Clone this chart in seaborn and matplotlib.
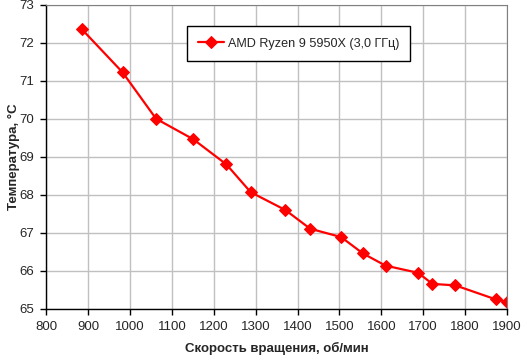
import pandas as pd
import numpy as np
import matplotlib
matplotlib.use('Agg')
import matplotlib.pyplot as plt
import seaborn as sns

# data
speed = [885, 982, 1062, 1151, 1230, 1288, 1371, 1430, 1504, 1556, 1610, 1688, 1722, 1777, 1874, 1899]
temp = [72.35, 71.22, 70.0, 69.46, 68.8, 68.07, 67.6, 67.11, 66.89, 66.46, 66.14, 65.95, 65.66, 65.62, 65.25, 65.19]
series_name = 'AMD Ryzen 9 5950X (3,0 ГГц)'

df = pd.DataFrame({'speed': speed, 'temp': temp, 'cpu': series_name})

sns.set_style('white')
plt.rcParams['font.family'] = ['Liberation Sans', 'DejaVu Sans']

fig = plt.figure(figsize=(5.21, 3.55), dpi=100)
ax = fig.add_axes([0.089, 0.1296, 0.884, 0.8574])

sns.lineplot(data=df, x='speed', y='temp', hue='cpu', palette=['#ff0000'],
             marker='D', markersize=6.5, markeredgecolor='#ff0000',
             linewidth=1.6, sort=False, ax=ax)

ax.set_xlim(800, 1900)
ax.set_ylim(65, 73)
ax.set_xticks(np.arange(800, 2000, 100))
ax.set_yticks(np.arange(65, 74, 1))
ax.grid(True, color='#c0c0c0', linewidth=1)
ax.set_axisbelow(True)

for side in ['top', 'right']:
    ax.spines[side].set_color('#808080')
for side in ['left', 'bottom']:
    ax.spines[side].set_color('black')
    ax.spines[side].set_linewidth(1)

ax.tick_params(axis='both', direction='out', length=4, width=1, color='black',
               labelsize=9.5, pad=5, bottom=True, left=True)

ax.set_xlabel('Скорость вращения, об/мин', fontsize=9.5, fontweight='bold', labelpad=6)
ax.set_ylabel('Температура, °C', fontsize=9.5, fontweight='bold')
ax.yaxis.set_label_coords(-0.058, 0.5)

leg = ax.legend(loc='upper left', bbox_to_anchor=(0.305, 0.93), borderaxespad=0,
                fontsize=9.1, frameon=True, fancybox=False, edgecolor='black',
                framealpha=1, handlelength=2.1, handleheight=1.2,
                borderpad=0.85, handletextpad=0.3)
leg.get_frame().set_linewidth(1)

fig.savefig('out.png', dpi=100)
